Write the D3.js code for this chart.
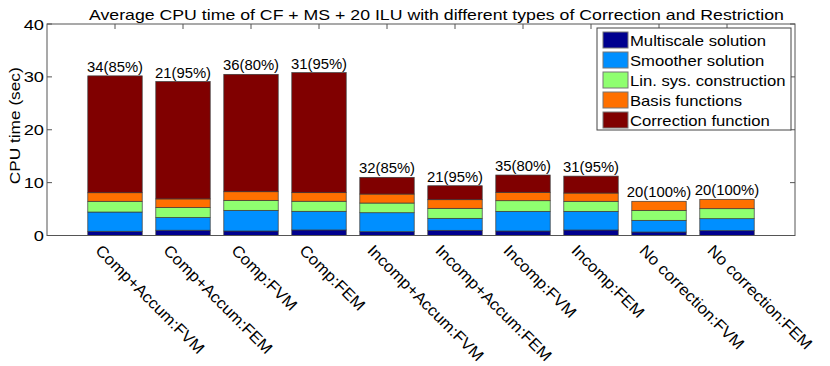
<!DOCTYPE html>
<html>
<head>
<meta charset="utf-8">
<script src="https://cdn.jsdelivr.net/npm/d3@7"></script>
<style>
  body { margin: 0; background: #fff; }
  text { font-family: "Liberation Sans", Arial, sans-serif; fill: #000; }
</style>
</head>
<body>
<div id="chart"></div>
<script>
// bar categories and stacked series (sec)
const categories = ["Comp+Accum:FVM", "Comp+Accum:FEM", "Comp:FVM", "Comp:FEM",
    "Incomp+Accum:FVM", "Incomp+Accum:FEM", "Incomp:FVM", "Incomp:FEM",
    "No correction:FVM", "No correction:FEM"];
const seriesNames = ["Multiscale solution", "Smoother solution", "Lin. sys. construction",
    "Basis functions", "Correction function"];
const multiscale = [0.8, 1.0, 0.85, 1.05, 0.72, 0.98, 0.85, 1.04, 0.66, 0.91];
const smoother = [3.64, 2.4, 3.91, 3.53, 3.59, 2.27, 3.72, 3.53, 2.21, 2.27];
const linsys = [2.03, 1.89, 1.89, 1.9, 1.83, 1.89, 2.01, 1.9, 1.89, 1.89];
const basis = [1.62, 1.63, 1.63, 1.62, 1.7, 1.63, 1.59, 1.56, 1.71, 1.77];
const correction = [22.1, 22.2, 22.2, 22.7, 3.16, 2.64, 3.27, 3.2, 0, 0];
const barLabels = ["34(85%)", "21(95%)", "36(80%)", "31(95%)", "32(85%)",
    "21(95%)", "35(80%)", "31(95%)", "20(100%)", "20(100%)"];
const yTicks = [0, 10, 20, 30, 40];
const colors = ["#00008f", "#008fff", "#8fff70", "#ff7000", "#800000"];

const width = 830, height = 366;
const plotLeft = 47, plotRight = 795, plotTop = 24, plotBottom = 235.5;

const svg = d3.select('#chart').append('svg')
        .attr('width', width)
        .attr('height', height);

const x = d3.scaleLinear().domain([0, categories.length + 1]).range([plotLeft, plotRight]);
const y = d3.scaleLinear().domain([0, 40]).range([plotBottom, plotTop]);
const barW = x(0.8) - x(0);

// the fonts in the picture are wider than Liberation Sans at the same height
function widen(sel, k, anchor) {
    sel.each(function () {
        const w = this.getComputedTextLength();
        const x0 = +this.getAttribute('x') || 0;
        d3.select(this)
                .attr('textLength', w * k)
                .attr('lengthAdjust', 'spacingAndGlyphs');
        if (anchor === 'end') d3.select(this).attr('x', x0 - w * k);
        if (anchor === 'middle') d3.select(this).attr('x', x0 - w * k / 2);
    });
}

// ticks inside the frame, on all four sides
const tickLen = 5;
const ticks = svg.append('g').attr('stroke', '#555').attr('stroke-width', 1);
yTicks.forEach(function (t) {
    ticks.append('line').attr('x1', plotLeft).attr('x2', plotLeft + tickLen)
            .attr('y1', y(t)).attr('y2', y(t));
    ticks.append('line').attr('x1', plotRight).attr('x2', plotRight - tickLen)
            .attr('y1', y(t)).attr('y2', y(t));
});
categories.forEach(function (c, i) {
    ticks.append('line').attr('x1', x(i + 1)).attr('x2', x(i + 1))
            .attr('y1', plotTop).attr('y2', plotTop + tickLen);
    ticks.append('line').attr('x1', x(i + 1)).attr('x2', x(i + 1))
            .attr('y1', plotBottom).attr('y2', plotBottom - tickLen);
});

// stacked bars
const rows = categories.map(function (c, i) {
    return {name: c, s0: multiscale[i], s1: smoother[i], s2: linsys[i], s3: basis[i], s4: correction[i]};
});
const stack = d3.stack().keys(["s0", "s1", "s2", "s3", "s4"])(rows);

svg.append('g').selectAll('g.series')
        .data(stack)
        .enter()
        .append('g')
        .attr('class', 'series')
        .attr('fill', function (d, i) { return colors[i]; })
        .selectAll('rect')
        .data(function (d) { return d.filter(function (p) { return p[1] - p[0] > 0; }); })
        .enter()
        .append('rect')
        .attr('x', function (d) { return x(categories.indexOf(d.data.name) + 1) - barW / 2; })
        .attr('width', barW)
        .attr('y', function (d) { return y(d[1]); })
        .attr('height', function (d) { return y(d[0]) - y(d[1]); })
        .attr('stroke', '#3a3a3a')
        .attr('stroke-width', 0.7);

// value labels above bars
const totals = rows.map(function (r) { return r.s0 + r.s1 + r.s2 + r.s3 + r.s4; });
svg.append('g').selectAll('text')
        .data(barLabels)
        .enter()
        .append('text')
        .attr('x', function (d, i) { return x(i + 1); })
        .attr('y', function (d, i) { return y(totals[i]) - 4; })
        .style('font-size', '14px')
        .text(function (d) { return d; })
        .call(widen, 1.06, 'middle');

// frame
svg.append('rect')
        .attr('x', plotLeft).attr('y', plotTop)
        .attr('width', plotRight - plotLeft).attr('height', plotBottom - plotTop)
        .attr('fill', 'none')
        .attr('stroke', '#555')
        .attr('stroke-width', 1);

// y tick labels
svg.append('g').selectAll('text')
        .data(yTicks)
        .enter()
        .append('text')
        .attr('x', plotLeft - 3)
        .attr('y', function (d) { return y(d) + 5.5; })
        .style('font-size', '15px')
        .text(function (d) { return d; })
        .call(widen, 1.22, 'end');

// x tick labels, slanted
svg.append('g').selectAll('text')
        .data(categories)
        .enter()
        .append('text')
        .attr('transform', function (d, i) {
            return 'translate(' + (x(i + 1) - 12) + ',243) rotate(45)';
        })
        .attr('x', 0)
        .attr('y', 12)
        .style('font-size', '16px')
        .text(function (d) { return d; })
        .call(widen, 1.05, 'start');

// axis title
svg.append('text')
        .attr('transform', 'translate(20,' + ((plotTop + plotBottom) / 2 - 4) + ') rotate(-90)')
        .attr('x', 0)
        .attr('y', 0)
        .style('font-size', '15px')
        .text('CPU time (sec)')
        .call(widen, 1.15, 'middle');

// chart title
svg.append('text')
        .attr('x', 89)
        .attr('y', 19.5)
        .style('font-size', '15px')
        .text('Average CPU time of CF + MS + 20 ILU with different types of Correction and Restriction')
        .call(widen, 1.18, 'start');

// legend
const legend = svg.append('g');
legend.append('rect')
        .attr('x', 597).attr('y', 28)
        .attr('width', 194).attr('height', 102)
        .attr('fill', '#fff')
        .attr('stroke', '#444')
        .attr('stroke-width', 1);
const entries = legend.selectAll('g.entry')
        .data(seriesNames)
        .enter()
        .append('g')
        .attr('class', 'entry')
        .attr('transform', function (d, i) { return 'translate(603,' + (32 + i * 20) + ')'; });
entries.append('rect')
        .attr('width', 25).attr('height', 16)
        .attr('fill', function (d, i) { return colors[i]; })
        .attr('stroke', '#777')
        .attr('stroke-width', 1);
entries.append('text')
        .attr('x', 27)
        .attr('y', 13.5)
        .style('font-size', '15px')
        .text(function (d) { return d; })
        .call(widen, 1.11, 'start');
</script>
</body>
</html>
